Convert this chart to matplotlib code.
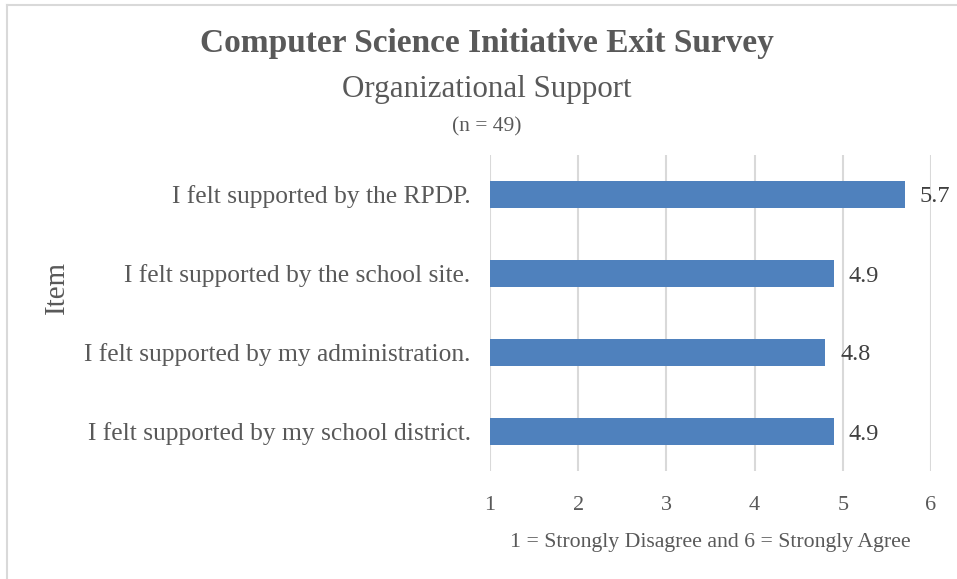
import matplotlib
matplotlib.use("Agg")
import matplotlib.pyplot as plt
from matplotlib.lines import Line2D

categories = [
    "I felt supported by the RPDP.",
    "I felt supported by the school site.",
    "I felt supported by my administration.",
    "I felt supported by my school district.",
]
values = [5.7, 4.9, 4.8, 4.9]
x_ticks = [1, 2, 3, 4, 5, 6]

title = "Computer Science Initiative Exit Survey"
subtitle = "Organizational Support"
n_text = "(n = 49)"
xlabel = "1 = Strongly Disagree and 6 = Strongly Agree"
ylabel = "Item"

FONT = ["Liberation Serif", "DejaVu Serif"]
TXT = "#595959"
BAR = "#4F81BD"
GRID = "#D9D9D9"

fig = plt.figure(figsize=(9.57, 5.79), dpi=100)
ax = fig.add_axes([490/957, 1-471/579, (931-490)/957, (471-155)/579])

ypos = list(range(len(categories)))[::-1]
ax.barh(ypos, [v - 1 for v in values], left=1, height=0.34, color=BAR, zorder=3)
for y, v in zip(ypos, values):
    ax.text(v + 0.17, y, f"{v:.1f}", va="center_baseline", ha="left", fontsize=17.5,
            color="#404040", family=FONT)

ax.set_xlim(1, 6)
ax.set_ylim(-0.5, len(categories) - 0.5)
ax.set_xticks(x_ticks)
ax.set_xticklabels([str(t) for t in x_ticks], family=FONT, fontsize=16, color=TXT)
ax.set_yticks(ypos)
ax.set_yticklabels(categories, family=FONT, fontsize=18.35, color=TXT)
ax.tick_params(axis="x", length=0, pad=18)
ax.tick_params(axis="y", length=0, pad=14)
ax.xaxis.grid(True, color=GRID, linewidth=1.5, zorder=0)
for s in ax.spines.values():
    s.set_visible(False)

ax.set_xlabel(xlabel, family=FONT, fontsize=15.7, color=TXT, labelpad=13)
fig.text(57/957, 1-288/579, ylabel, rotation=90, ha="center", va="center",
         family=FONT, fontsize=20.8, color=TXT)

fig.text(487/957, 1-52/579, title, ha="center", va="baseline", family=FONT,
         fontsize=24, fontweight="bold", color=TXT)
fig.text(487/957, 1-97/579, subtitle, ha="center", va="baseline", family=FONT,
         fontsize=22.3, color=TXT)
fig.text(487/957, 1-131/579, n_text, ha="center", va="baseline", family=FONT,
         fontsize=15.5, color=TXT)

fig.add_artist(Line2D([7/957, 7/957], [0, 1-4.5/579], transform=fig.transFigure,
                      color=GRID, linewidth=1.5))
fig.add_artist(Line2D([7/957, 1], [1-4.5/579, 1-4.5/579], transform=fig.transFigure,
                      color=GRID, linewidth=1.5))

fig.savefig("out.png", dpi=100)
